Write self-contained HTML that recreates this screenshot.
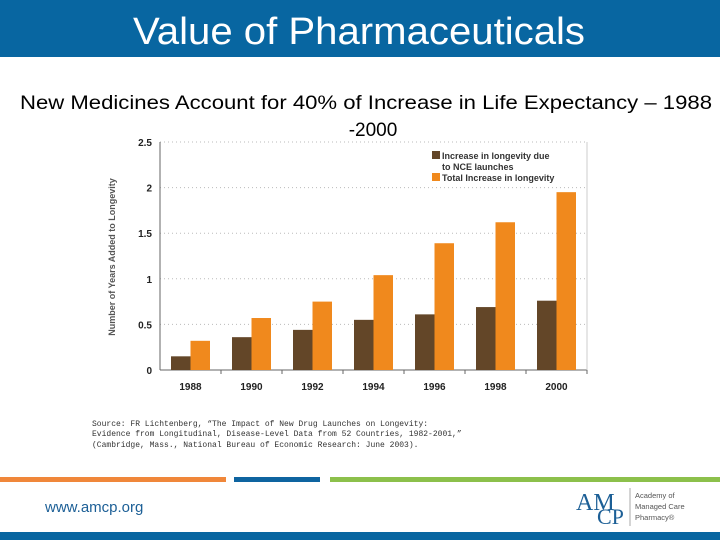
<!DOCTYPE html>
<html><head><meta charset="utf-8"><style>body{margin:0;width:720px;height:540px;overflow:hidden;background:#fff}svg{display:block}</style></head>
<body>
<svg id="s" width="720" height="540" xmlns="http://www.w3.org/2000/svg" font-family="Liberation Sans, sans-serif">
<rect x="0" y="0" width="720" height="57" fill="#0866a1"/>
<text x="359" y="44" text-anchor="middle" font-size="38" fill="#fff" textLength="452" lengthAdjust="spacingAndGlyphs">Value of Pharmaceuticals</text>
<text x="366" y="109" text-anchor="middle" font-size="19" fill="#000" textLength="692" lengthAdjust="spacingAndGlyphs">New Medicines Account for 40% of Increase in Life Expectancy – 1988</text>
<text x="373" y="136" text-anchor="middle" font-size="19" fill="#000">-2000</text>
<g id="chart"></g>
<text transform="translate(115,257) rotate(-90)" text-anchor="middle" font-size="9" font-weight="bold" fill="#555">Number of Years Added to Longevity</text>
<rect x="432" y="151" width="8" height="8" fill="#634628"/>
<text x="442" y="159" font-size="9" font-weight="bold" fill="#333">Increase in longevity due</text>
<text x="442" y="170" font-size="9" font-weight="bold" fill="#333">to NCE launches</text>
<rect x="432" y="173" width="8" height="8" fill="#f0891d"/>
<text x="442" y="181" font-size="9" font-weight="bold" fill="#333">Total Increase in longevity</text>
<g font-family="Liberation Mono, monospace" font-size="8" fill="#333">
<text x="92" y="426">Source: FR Lichtenberg, “The Impact of New Drug Launches on Longevity:</text>
<text x="92" y="436">Evidence from Longitudinal, Disease-Level Data from 52 Countries, 1982-2001,”</text>
<text x="92" y="447">(Cambridge, Mass., National Bureau of Economic Research: June 2003).</text>
</g>
<rect x="0" y="477" width="226" height="5" fill="#f0873a"/>
<rect x="234" y="477" width="86" height="5" fill="#0e64a0"/>
<rect x="330" y="477" width="390" height="5" fill="#8cc04b"/>
<text x="45" y="512" font-size="15" fill="#1c5f96">www.amcp.org</text>
<text x="576" y="510" font-family="Liberation Serif, serif" font-size="24" fill="#1c5f96">AM</text>
<text x="597" y="524" font-family="Liberation Serif, serif" font-size="22" fill="#1c5f96">CP</text>
<line x1="630" y1="488" x2="630" y2="526" stroke="#aaa"/>
<g font-size="7.5" fill="#555"><text x="635" y="498">Academy of</text><text x="635" y="509">Managed Care</text><text x="635" y="520">Pharmacy®</text></g>
<rect x="0" y="532" width="720" height="8" fill="#0866a1"/>
</svg>
<script>
const categories=["1988","1990","1992","1994","1996","1998","2000"];
const nceValues=[0.15,0.36,0.44,0.55,0.61,0.69,0.76];
const totalValues=[0.32,0.57,0.75,1.04,1.39,1.62,1.95];
const yTicks=[0,0.5,1,1.5,2,2.5];
const yTickLabels=["0","0.5","1","1.5","2","2.5"];
const NS="http://www.w3.org/2000/svg";
const g=document.getElementById('chart');
const x0=160,x1=587,y0=370,yTop=142,ymax=2.5;
const Y=v=>y0-(v/ymax)*(y0-yTop);
const step=(x1-x0)/categories.length;
const X=i=>x0+step*i;
function mk(t,a){const e=document.createElementNS(NS,t);for(const k in a)e.setAttribute(k,a[k]);g.appendChild(e);return e;}
yTicks.forEach((v,i)=>{
 if(v>0){const l=mk('line',{x1:x0,x2:x1,y1:Y(v),y2:Y(v),stroke:'#bbb','stroke-dasharray':'1,3'});
 
 }
 const t=mk('text',{x:x0-8,y:Y(v)+4,'text-anchor':'end','font-size':10,'font-weight':'bold',fill:'#222'});
 t.textContent=yTickLabels[i];
 
 
});
const ax=mk('line',{x1:x0,x2:x0,y1:yTop,y2:y0,stroke:'#666'});


const xa=mk('line',{x1:x0,x2:x1,y1:y0,y2:y0,stroke:'#666'});


const rb=mk('line',{x1:x1,x2:x1,y1:yTop,y2:y0,stroke:'#ccc'});


const bw=19.5;
categories.forEach((c,i)=>{
 const cx=X(i)+step/2;
 const b1=mk('rect',{x:cx-bw,y:Y(nceValues[i]),width:bw,height:y0-Y(nceValues[i]),fill:'#634628'});
 
 
 const b2=mk('rect',{x:cx,y:Y(totalValues[i]),width:bw,height:y0-Y(totalValues[i]),fill:'#f0891d'});
 
 
 const tk=mk('line',{x1:X(i+1),x2:X(i+1),y1:y0,y2:y0+4,stroke:'#666'});
 
 
 const t=mk('text',{x:cx,y:y0+20,'text-anchor':'middle','font-size':10,'font-weight':'bold',fill:'#222'});
 t.textContent=c;
 
 
});
</script>
</body></html>
